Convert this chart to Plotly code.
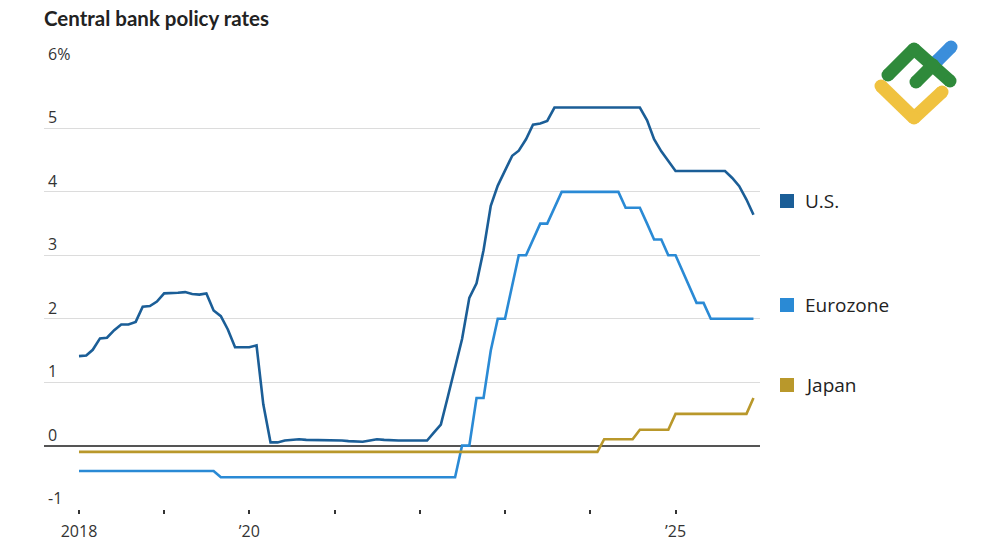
import pandas as pd
import plotly.graph_objects as go

# ---------------- data ----------------
months = pd.date_range("2018-01-01", periods=96, freq="MS")

us_rate = [
    1.41, 1.42, 1.51, 1.69, 1.70, 1.82, 1.91, 1.91, 1.95, 2.19, 2.20, 2.27,
    2.40, 2.40, 2.41, 2.42, 2.39, 2.38, 2.40, 2.13, 2.04, 1.83, 1.55, 1.55,
    1.55, 1.58, 0.65, 0.05, 0.05, 0.08, 0.09, 0.10, 0.09, 0.09, 0.09, 0.09,
    0.09, 0.08, 0.07, 0.07, 0.06, 0.08, 0.10, 0.09, 0.08, 0.08, 0.08, 0.08,
    0.08, 0.08, 0.20, 0.33, 0.77, 1.21, 1.68, 2.33, 2.56, 3.08, 3.78, 4.10,
    4.33, 4.57, 4.65, 4.83, 5.06, 5.08, 5.12, 5.33, 5.33, 5.33, 5.33, 5.33,
    5.33, 5.33, 5.33, 5.33, 5.33, 5.33, 5.33, 5.33, 5.13, 4.83, 4.64, 4.48,
    4.33, 4.33, 4.33, 4.33, 4.33, 4.33, 4.33, 4.33, 4.22, 4.09, 3.88, 3.64,
]

euro_rate = [
    -0.40, -0.40, -0.40, -0.40, -0.40, -0.40, -0.40, -0.40, -0.40, -0.40, -0.40, -0.40,
    -0.40, -0.40, -0.40, -0.40, -0.40, -0.40, -0.40, -0.40, -0.50, -0.50, -0.50, -0.50,
    -0.50, -0.50, -0.50, -0.50, -0.50, -0.50, -0.50, -0.50, -0.50, -0.50, -0.50, -0.50,
    -0.50, -0.50, -0.50, -0.50, -0.50, -0.50, -0.50, -0.50, -0.50, -0.50, -0.50, -0.50,
    -0.50, -0.50, -0.50, -0.50, -0.50, -0.50, 0.00, 0.00, 0.75, 0.75, 1.50, 2.00,
    2.00, 2.50, 3.00, 3.00, 3.25, 3.50, 3.50, 3.75, 4.00, 4.00, 4.00, 4.00,
    4.00, 4.00, 4.00, 4.00, 4.00, 3.75, 3.75, 3.75, 3.50, 3.25, 3.25, 3.00,
    3.00, 2.75, 2.50, 2.25, 2.25, 2.00, 2.00, 2.00, 2.00, 2.00, 2.00, 2.00,
]

japan_rate = [-0.10] * 72 + [
    -0.10, -0.10, 0.10, 0.10, 0.10, 0.10, 0.10, 0.25, 0.25, 0.25, 0.25, 0.25,
    0.50, 0.50, 0.50, 0.50, 0.50, 0.50, 0.50, 0.50, 0.50, 0.50, 0.50, 0.75,
]

series_names = ["U.S.", "Eurozone", "Japan"]
series_colors = ["#1b5e97", "#2a8ad5", "#b9982b"]
legend_y_px = [201, 305, 385]

y_tickvals = [-1, 0, 1, 2, 3, 4, 5, 6]
y_ticktext = ["-1", "0", "1", "2", "3", "4", "5", "6%"]
x_tickvals = [f"{y}-01-01" for y in range(2018, 2026)]
x_ticktext = ["2018", "", "\u201920", "", "", "", "", "\u201925"]

# ---------------- layout helpers ----------------
OFF = 8  # page body margin
L, R, T, B = 44 - OFF, 760 - OFF, 65 - OFF, 509 - OFF
W, H = 1000, 545


def px(x):
    return (x - OFF - L) / (R - L)


def py(y):
    return (B - (y - OFF)) / (B - T)


fig = go.Figure()
for name, vals, col in zip(series_names, [us_rate, euro_rate, japan_rate], series_colors):
    fig.add_trace(go.Scatter(
        x=months, y=vals, mode="lines", name=name,
        line=dict(color=col, width=2.6), showlegend=False,
    ))

shapes = []
annotations = []

# y tick labels sitting above the gridlines
for v, t in zip(y_tickvals, y_ticktext):
    annotations.append(dict(text=t, xref="paper", yref="y", x=px(46), y=v,
                            xanchor="left", yanchor="bottom", yshift=-2,
                            showarrow=False,
                            font=dict(family="Open Sans", size=16, color="#333")))

# custom legend
for name, col, ly in zip(series_names, series_colors, legend_y_px):
    shapes.append(dict(type="rect", xref="paper", yref="paper",
                       x0=px(780), x1=px(794), y0=py(ly + 7), y1=py(ly - 7),
                       fillcolor=col, line=dict(width=0)))
    annotations.append(dict(text=name, xref="paper", yref="paper",
                            x=px(803), y=py(ly), xanchor="left", yanchor="middle",
                            showarrow=False,
                            font=dict(family="Open Sans", size=19, color="#222")))

# title
annotations.append(dict(text="<b>Central bank policy rates</b>", xref="paper", yref="paper",
                        x=px(42), y=py(18), xanchor="left", yanchor="middle",
                        showarrow=False,
                        font=dict(family="Lato", size=20.5, color="#222")))

# logo
def stroke(points, color, width=13):
    out = []
    for (x0, y0), (x1, y1) in zip(points[:-1], points[1:]):
        out.append(dict(type="line", xref="paper", yref="paper",
                        x0=px(x0), y0=py(y0), x1=px(x1), y1=py(y1),
                        line=dict(color=color, width=width)))
    r = width / 2
    for (x, y) in points:
        out.append(dict(type="circle", xref="paper", yref="paper",
                        x0=px(x - r), x1=px(x + r), y0=py(y + r), y1=py(y - r),
                        fillcolor=color, line=dict(width=0)))
    return out

shapes += stroke([(881, 86), (914, 118), (942, 92)], "#f0c23f")
shapes += stroke([(937, 61), (951, 47)], "#3b8edb")
shapes += stroke([(888, 75), (914, 49), (950, 81)], "#2f8a3b")
shapes += stroke([(916, 82), (933, 65)], "#2f8a3b")

fig.update_layout(
    width=W, height=H,
    margin=dict(l=L, r=W - R, t=T, b=H - B, autoexpand=False),
    paper_bgcolor="white", plot_bgcolor="white",
    shapes=shapes, annotations=annotations,
    font=dict(family="Open Sans", color="#333"),
    xaxis=dict(
        type="date",
        range=["2017-08-04", "2025-12-29"],
        tickvals=x_tickvals, ticktext=x_ticktext,
        ticks="outside", ticklen=4, tickwidth=1.5, tickcolor="#333",
        ticklabelstandoff=4,
        showgrid=False, zeroline=False,
        showline=False, automargin=False,
        tickfont=dict(family="Open Sans", size=16, color="#333"),
    ),
    yaxis=dict(
        range=[-1, 6.001],
        tickvals=y_tickvals,
        showticklabels=False,
        showgrid=True, gridcolor="#dcdcdc", gridwidth=1,
        zeroline=True, zerolinecolor="#555", zerolinewidth=2,
        showline=False, ticks="", automargin=False,
    ),
)

fig.write_html("out.html")
